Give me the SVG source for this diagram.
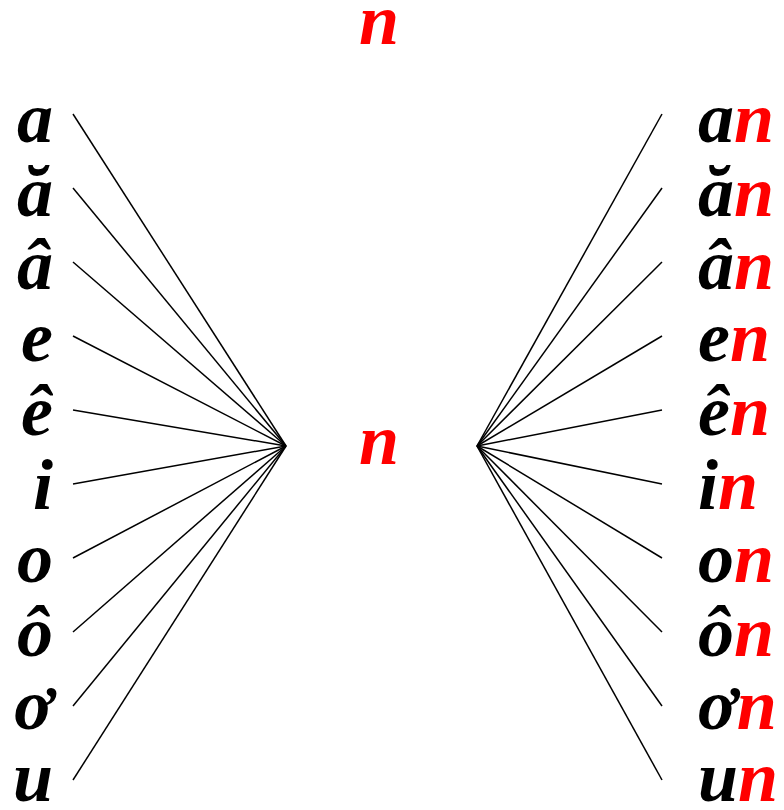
<svg xmlns="http://www.w3.org/2000/svg" width="784" height="810" viewBox="0 0 784 810">
<style>
text{font-family:"Liberation Serif","Times New Roman",serif;font-weight:bold;font-style:italic;font-size:72px;fill:#000}
.r{fill:#ff0000}
.L{text-anchor:end}
line{stroke:#000;stroke-width:1.5}
</style>
<rect width="784" height="810" fill="#fff"/>
<g id="title"><text class="r" x="379" y="44" text-anchor="middle">n</text></g>
<g id="center"><text class="r" x="379" y="464" text-anchor="middle">n</text></g>
<g id="left">
<text class="L" x="53" y="142">a</text>
<text class="L" x="53" y="216">ă</text>
<text class="L" x="53" y="289">â</text>
<text class="L" x="53" y="361">e</text>
<text class="L" x="53" y="435">ê</text>
<text class="L" x="53" y="509">i</text>
<text class="L" x="53" y="582">o</text>
<text class="L" x="53" y="656">ô</text>
<text class="L" x="53" y="729">ơ</text>
<text class="L" x="53" y="801">u</text>
</g>
<g id="right">
<text x="698" y="142">a<tspan class="r">n</tspan></text>
<text x="698" y="216">ă<tspan class="r">n</tspan></text>
<text x="698" y="289">â<tspan class="r">n</tspan></text>
<text x="698" y="361">e<tspan class="r">n</tspan></text>
<text x="698" y="435">ê<tspan class="r">n</tspan></text>
<text x="698" y="509">i<tspan class="r">n</tspan></text>
<text x="698" y="582">o<tspan class="r">n</tspan></text>
<text x="698" y="656">ô<tspan class="r">n</tspan></text>
<text x="698" y="729">ơ<tspan class="r">n</tspan></text>
<text x="698" y="801">u<tspan class="r">n</tspan></text>
</g>
<g id="connectors">
<line x1="73" y1="114" x2="286" y2="446"/>
<line x1="73" y1="188" x2="286" y2="446"/>
<line x1="73" y1="262" x2="286" y2="446"/>
<line x1="73" y1="336" x2="286" y2="446"/>
<line x1="73" y1="410" x2="286" y2="446"/>
<line x1="73" y1="484" x2="286" y2="446"/>
<line x1="73" y1="558" x2="286" y2="446"/>
<line x1="73" y1="632" x2="286" y2="446"/>
<line x1="73" y1="706" x2="286" y2="446"/>
<line x1="73" y1="780" x2="286" y2="446"/>
<line x1="662" y1="114" x2="477" y2="446"/>
<line x1="662" y1="188" x2="477" y2="446"/>
<line x1="662" y1="262" x2="477" y2="446"/>
<line x1="662" y1="336" x2="477" y2="446"/>
<line x1="662" y1="410" x2="477" y2="446"/>
<line x1="662" y1="484" x2="477" y2="446"/>
<line x1="662" y1="558" x2="477" y2="446"/>
<line x1="662" y1="632" x2="477" y2="446"/>
<line x1="662" y1="706" x2="477" y2="446"/>
<line x1="662" y1="780" x2="477" y2="446"/>
</g>
</svg>
